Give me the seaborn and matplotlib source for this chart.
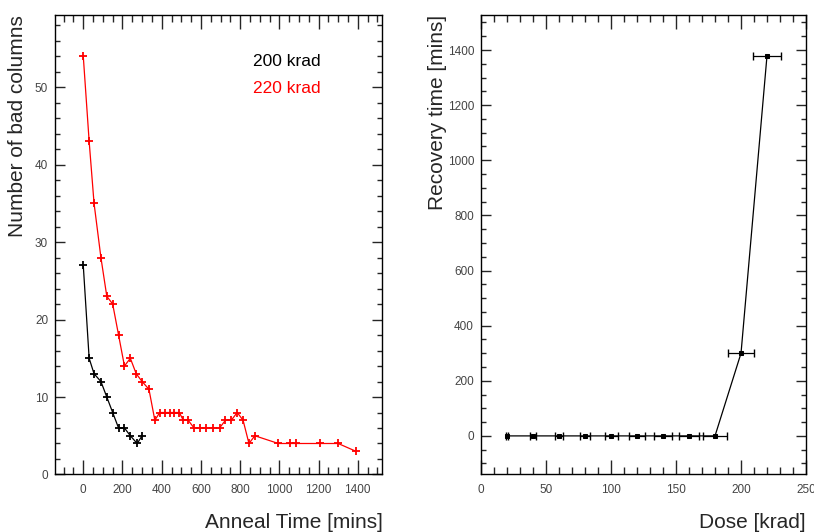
import numpy as np
import pandas as pd
import matplotlib
matplotlib.use("Agg")
import matplotlib.pyplot as plt
import seaborn as sns
from matplotlib.ticker import MultipleLocator

# Anneal curves (left panel)
t_200 = [0, 30, 55, 90, 120, 150, 180, 210, 240, 275, 300]
n_200 = [27, 15, 13, 12, 10, 8, 6, 6, 5, 4, 5]

t_220 = [0, 30, 55, 90, 120, 150, 180, 210, 240, 270, 300, 335, 365,
         390, 415, 440, 465, 490, 510, 535, 565, 595, 625, 660, 695,
         725, 755, 785, 815, 845, 875, 995, 1055, 1085, 1205, 1300, 1390]
n_220 = [54, 43, 35, 28, 23, 22, 18, 14, 15, 13, 12, 11, 7,
         8, 8, 8, 8, 8, 7, 7, 6, 6, 6, 6, 6,
         7, 7, 8, 7, 4, 5, 4, 4, 4, 4, 4, 3]

# Recovery time vs dose (right panel)
dose = [20, 40, 60, 80, 100, 120, 140, 160, 180, 200, 220]
dose_err = [1, 2, 3, 4, 5, 6, 7, 8, 9, 10, 11]
recovery = [0, 0, 0, 0, 0, 0, 0, 0, 0, 300, 1380]

sns.set_style("ticks")
plt.rcParams['font.family'] = ['Liberation Sans', 'DejaVu Sans']

df200 = pd.DataFrame({"t": t_200, "n": n_200})
df220 = pd.DataFrame({"t": t_220, "n": n_220})
dfrec = pd.DataFrame({"dose": dose, "rec": recovery, "err": dose_err})

fig = plt.figure(figsize=(8.14, 5.32), dpi=100)
ax1 = fig.add_axes([0.0676, 0.1081, 0.4023, 0.8637])
ax2 = fig.add_axes([0.5909, 0.1081, 0.3993, 0.8637])

# left panel
sns.lineplot(data=df200, x="t", y="n", ax=ax1, color="black", lw=0.9,
             marker="+", markersize=6, markeredgewidth=1.3, mec="black")
sns.lineplot(data=df220, x="t", y="n", ax=ax1, color="red", lw=0.9,
             marker="+", markersize=6, markeredgewidth=1.3, mec="red")
ax1.set_xlim(-144, 1526)
ax1.set_ylim(0, 59.3)
ax1.xaxis.set_major_locator(MultipleLocator(200))
ax1.xaxis.set_minor_locator(MultipleLocator(50))
ax1.yaxis.set_major_locator(MultipleLocator(10))
ax1.yaxis.set_minor_locator(MultipleLocator(2))
ax1.text(0.605, 0.89, "200 krad", transform=ax1.transAxes, fontsize=12.5, color="black")
ax1.text(0.605, 0.83, "220 krad", transform=ax1.transAxes, fontsize=12.5, color="red")
ax1.set_xlabel("Anneal Time [mins]", fontsize=15, loc="right", labelpad=12)
ax1.set_ylabel("Number of bad columns", fontsize=15, loc="top")
ax1.yaxis.set_label_coords(-0.085, 1.0)

# right panel
sns.lineplot(data=dfrec, x="dose", y="rec", ax=ax2, color="black", lw=0.9,
             marker="s", markersize=3.5, mec="black")
ax2.errorbar(dfrec["dose"], dfrec["rec"], xerr=dfrec["err"], fmt="none",
             ecolor="black", elinewidth=0.9, capsize=3)
ax2.set_xlim(0, 250)
ax2.set_ylim(-140, 1527)
ax2.xaxis.set_major_locator(MultipleLocator(50))
ax2.xaxis.set_minor_locator(MultipleLocator(10))
ax2.yaxis.set_major_locator(MultipleLocator(200))
ax2.yaxis.set_minor_locator(MultipleLocator(50))
ax2.set_xlabel("Dose [krad]", fontsize=15, loc="right", labelpad=12)
ax2.set_ylabel("Recovery time [mins]", fontsize=15, loc="top")
ax2.yaxis.set_label_coords(-0.106, 1.0)

for ax in (ax1, ax2):
    for sp in ax.spines.values():
        sp.set_linewidth(1.0)
        sp.set_color("black")
    ax.tick_params(which="both", direction="in", top=True, right=True,
                   labelsize=8.5, labelcolor="#444444", width=1.0)
    ax.tick_params(axis="x", which="major", length=10, pad=7)
    ax.tick_params(axis="x", which="minor", length=5)
    ax.tick_params(axis="y", which="major", length=7, pad=5)
    ax.tick_params(axis="y", which="minor", length=3.5)

fig.savefig("out.png", dpi=100)
